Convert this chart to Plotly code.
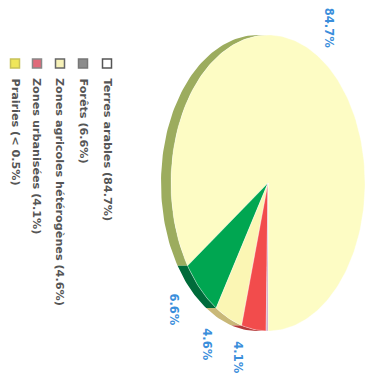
import math
import plotly.graph_objects as go

# ---- data ----
categories = ["Terres arables", "Forêts", "Zones agricoles hétérogènes",
              "Zones urbanisées", "Prairies"]
values = [84.7, 6.6, 4.6, 4.1, 0.3]
legend_labels = ["Terres arables (84.7%)", "Forêts (6.6%)",
                 "Zones agricoles hétérogènes (4.6%)",
                 "Zones urbanisées (4.1%)", "Prairies (< 0.5%)"]
pie_labels = ["84.7%", "6.6%", "4.6%", "4.1%", ""]

# ---- styles ----
top_colors = ["#fdfcc4", "#00a651", "#fbf6b4", "#f24c4c", "#c9a3c9"]
side_colors = ["#9cac5e", "#006b3a", "#c9b878", "#b43a3a", "#a080a0"]
icon_fill = ["#ffffff", "#8c8c8c", "#f6f1b8", "#e06a7a", "#efe65a"]
icon_line = ["#555555", "#777777", "#666666", "#888888", "#c8c25a"]

W, H = 371, 374
cx, cy, rx, ry, depth = 268, 183, 97, 148, 10
start_deg = 450.0  # angles run decreasing on screen (rotated 3D pie)

total = sum(values)
spans = []
a = start_deg
for v in values:
    b = a - v / total * 360.0
    spans.append((a, b))
    a = b


def pt(t, dx=0.0):
    r = math.radians(t)
    return cx + rx * math.cos(r) + dx, cy + ry * math.sin(r)


def arc(t0, t1, n=None):
    if n is None:
        n = max(2, int(abs(t1 - t0) / 1.5) + 2)
    return [t0 + (t1 - t0) * i / (n - 1) for i in range(n)]


fig = go.Figure()

# side faces (visible where the rim faces left: 90..270 deg)
for i, (a0, b0) in enumerate(spans):
    lo, hi = min(a0, b0), max(a0, b0)
    for off in (0, 360, -360):
        l2, h2 = max(lo, 90 + off), min(hi, 270 + off)
        if h2 - l2 > 0.2:
            ts = arc(l2, h2)
            xs = [pt(t)[0] for t in ts] + [pt(t, -depth)[0] for t in reversed(ts)]
            ys = [pt(t)[1] for t in ts] + [pt(t, -depth)[1] for t in reversed(ts)]
            fig.add_trace(go.Scatter(x=xs + [xs[0]], y=ys + [ys[0]], mode="lines",
                                     fill="toself", fillcolor=side_colors[i],
                                     line=dict(width=0), hoverinfo="skip",
                                     showlegend=False))

# top faces
for i, (a0, b0) in enumerate(spans):
    ts = arc(a0, b0)
    xs = [cx] + [pt(t)[0] for t in ts] + [cx]
    ys = [cy] + [pt(t)[1] for t in ts] + [cy]
    fig.add_trace(go.Scatter(x=xs, y=ys, mode="lines", fill="toself",
                             fillcolor=top_colors[i],
                             line=dict(width=0.6, color="rgba(255,255,255,0.6)"),
                             name=categories[i], hoverinfo="name",
                             showlegend=False))

annotations = []
# slice labels
for i, (a0, b0) in enumerate(spans):
    if not pie_labels[i]:
        continue
    m = (a0 + b0) / 2
    r = math.radians(m)
    x = cx + 1.2 * rx * math.cos(r) + (-(depth + 3) if math.cos(r) < 0 else 6)
    y = cy + 1.19 * ry * math.sin(r)
    annotations.append(dict(x=x, y=y, xref="x", yref="y", text=pie_labels[i],
                             textangle=90, showarrow=False,
                             font=dict(family="DejaVu Sans", size=11.5,
                                       color="#3a8edb", weight="bold")))

# rotated legend
leg_x = [107, 83, 60, 37, 15]
shapes = []
for i, lab in enumerate(legend_labels):
    x = leg_x[i]
    shapes.append(dict(type="rect", xref="x", yref="y", x0=x - 4.5, x1=x + 4.5,
                       y0=59, y1=68, fillcolor=icon_fill[i],
                       line=dict(color=icon_line[i], width=1.5)))
    annotations.append(dict(x=x, y=76, xref="x", yref="y", text=lab,
                            textangle=90, showarrow=False,
                            xanchor="center", yanchor="top",
                            font=dict(family="DejaVu Sans", size=11.2,
                                      color="#555555", weight="bold")))

fig.update_layout(
    width=W, height=H, margin=dict(l=0, r=0, t=0, b=0),
    paper_bgcolor="white", plot_bgcolor="white",
    xaxis=dict(range=[0, W], visible=False, fixedrange=True),
    yaxis=dict(range=[H, 0], visible=False, fixedrange=True),
    annotations=annotations, shapes=shapes, showlegend=False,
)
fig.write_html("out.html")
